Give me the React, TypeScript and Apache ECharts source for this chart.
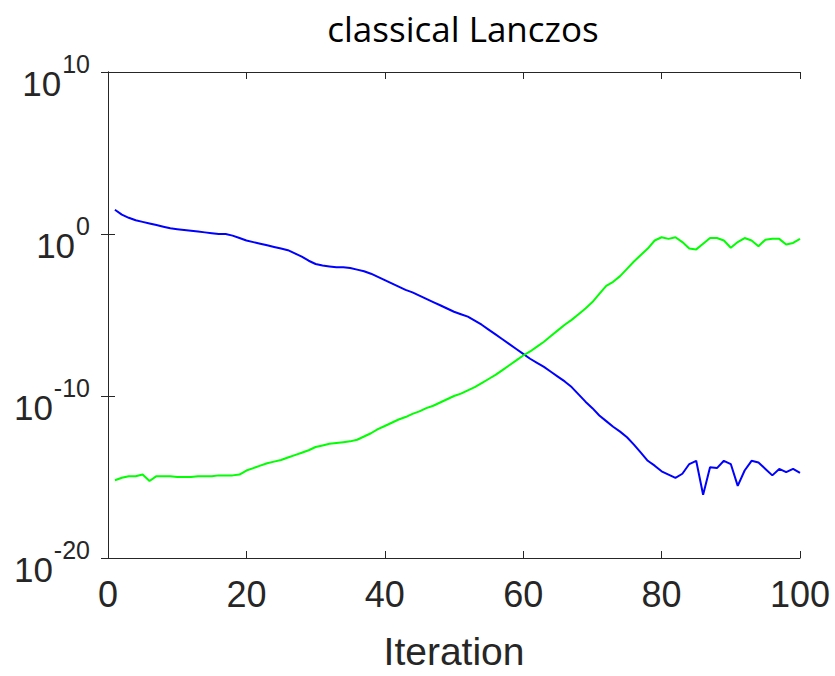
import React, { useEffect, useRef } from "react";
import * as echarts from "echarts";

const iterations: number[] = Array.from({ length: 100 }, (_, i) => i + 1);

// log10 of residual values, iterations 1..100
const blueExp: number[] = [
  1.5, 1.2, 1.0, 0.85, 0.75, 0.65, 0.55, 0.45, 0.35, 0.3,
  0.25, 0.2, 0.15, 0.1, 0.05, 0.0, 0.0, -0.1, -0.25, -0.4,
  -0.5, -0.6, -0.7, -0.8, -0.9, -1.0, -1.2, -1.4, -1.65, -1.85,
  -1.95, -2.0, -2.05, -2.05, -2.1, -2.2, -2.3, -2.45, -2.65, -2.85,
  -3.05, -3.25, -3.45, -3.6, -3.8, -4.0, -4.2, -4.4, -4.6, -4.8,
  -4.95, -5.1, -5.35, -5.6, -5.9, -6.2, -6.5, -6.8, -7.1, -7.4,
  -7.7, -7.95, -8.2, -8.5, -8.8, -9.1, -9.45, -9.9, -10.35, -10.75,
  -11.2, -11.55, -11.9, -12.2, -12.55, -13.0, -13.5, -14.0, -14.3, -14.65,
  -14.85, -15.05, -14.8, -14.2, -14.0, -16.1, -14.4, -14.45, -14.0, -14.2,
  -15.55, -14.6, -14.0, -14.1, -14.5, -14.9, -14.5, -14.7, -14.5, -14.75,
];

const greenExp: number[] = [
  -15.2, -15.05, -14.95, -14.95, -14.85, -15.25, -14.95, -14.95, -14.95, -15.0,
  -15.0, -15.0, -14.95, -14.95, -14.95, -14.9, -14.9, -14.9, -14.85, -14.6,
  -14.45, -14.3, -14.15, -14.05, -13.95, -13.8, -13.65, -13.5, -13.35, -13.15,
  -13.05, -12.95, -12.9, -12.85, -12.8, -12.7, -12.5, -12.3, -12.05, -11.85,
  -11.65, -11.45, -11.3, -11.1, -10.95, -10.75, -10.6, -10.4, -10.2, -10.0,
  -9.85, -9.65, -9.45, -9.2, -8.95, -8.7, -8.4, -8.1, -7.8, -7.5,
  -7.25, -6.95, -6.65, -6.3, -5.95, -5.6, -5.3, -4.95, -4.6, -4.2,
  -3.7, -3.2, -2.95, -2.6, -2.15, -1.7, -1.3, -0.9, -0.4, -0.2,
  -0.3, -0.2, -0.5, -0.9, -0.95, -0.6, -0.25, -0.25, -0.4, -0.85,
  -0.5, -0.25, -0.4, -0.75, -0.35, -0.3, -0.3, -0.65, -0.55, -0.3,
];

const xTicks: number[] = [0, 20, 40, 60, 80, 100];
const yTickExponents: number[] = [-20, -10, 0, 10];

const titleText = "classical Lanczos";
const xAxisName = "Iteration";

const axisColor = "#262626";
const labelFont = "Liberation Sans, Arial, Helvetica, sans-serif";

export default function App() {
  const ref = useRef<HTMLDivElement>(null);

  useEffect(() => {
    if (!ref.current) return;
    const chart = echarts.init(ref.current, undefined, { renderer: "svg" });

    const blueData = iterations.map((it, i) => [it, Math.pow(10, blueExp[i])]);
    const greenData = iterations.map((it, i) => [it, Math.pow(10, greenExp[i])]);

    const tickInside = { show: true, inside: true, length: 7, lineStyle: { color: axisColor, width: 1 } };
    const lineStyle = { color: axisColor, width: 1 };
    const yMin = Math.pow(10, yTickExponents[0]);
    const yMax = Math.pow(10, yTickExponents[yTickExponents.length - 1]);

    chart.setOption({
      animation: false,
      backgroundColor: "#ffffff",
      grid: { left: 108, right: 35, top: 72, bottom: 114, containLabel: false },
      xAxis: [
        {
          type: "value",
          min: xTicks[0],
          max: xTicks[xTicks.length - 1],
          interval: 20,
          axisLine: { show: true, lineStyle },
          axisTick: tickInside,
          splitLine: { show: false },
          axisLabel: {
            fontSize: 36,
            fontFamily: labelFont,
            color: "#262626",
            margin: 18,
          },
          name: xAxisName,
          nameLocation: "middle",
          nameGap: 74,
          nameTextStyle: { fontSize: 39, fontFamily: labelFont, color: "#262626" },
        },
        {
          type: "value",
          position: "top",
          min: xTicks[0],
          max: xTicks[xTicks.length - 1],
          interval: 20,
          axisLine: { show: true, lineStyle },
          axisTick: tickInside,
          axisLabel: { show: false },
          splitLine: { show: false },
        },
      ],
      yAxis: [
        {
          type: "log",
          logBase: 10,
          min: yMin,
          max: yMax,
          interval: 10,
          axisLine: { show: true, lineStyle },
          axisTick: tickInside,
          splitLine: { show: false },
          minorTick: { show: false },
          axisLabel: { show: false },
        },
        {
          type: "log",
          logBase: 10,
          position: "right",
          min: yMin,
          max: yMax,
          interval: 10,
          axisLine: { show: true, lineStyle },
          axisTick: tickInside,
          axisLabel: { show: false },
          splitLine: { show: false },
        },
      ],
      series: [
        {
          type: "line",
          data: blueData,
          showSymbol: false,
          symbol: "none",
          lineStyle: { color: "#0000ff", width: 2 },
          xAxisIndex: 0,
          yAxisIndex: 0,
        },
        {
          type: "line",
          data: greenData,
          showSymbol: false,
          symbol: "none",
          lineStyle: { color: "#00ff00", width: 2 },
          xAxisIndex: 0,
          yAxisIndex: 0,
        },
      ],
    });

    // y tick labels of the form 10^e, placed through the axis scale
    const baseFont = `35px ${labelFont}`;
    const expFont = `25px ${labelFont}`;
    const rightEdge = 90;
    const graphics: any[] = [
      {
        type: "text",
        x: 463,
        y: 28,
        style: {
          text: titleText,
          fill: "#000000",
          font: "35px 'Open Sans', 'Noto Sans', sans-serif",
          textAlign: "center",
          textVerticalAlign: "middle",
        },
      },
    ];
    yTickExponents.forEach((e) => {
      const py = chart.convertToPixel({ yAxisIndex: 0 }, Math.pow(10, e)) as number;
      const expText = String(e);
      const expW = new echarts.graphic.Text({ style: { text: expText, font: expFont } }).getBoundingRect().width;
      graphics.push({
        type: "text",
        x: rightEdge,
        y: py - 8,
        style: {
          text: expText,
          font: expFont,
          fill: "#262626",
          textAlign: "right",
          textVerticalAlign: "middle",
        },
      });
      graphics.push({
        type: "text",
        x: rightEdge - expW - 1,
        y: py + 11,
        style: {
          text: "10",
          font: baseFont,
          fill: "#262626",
          textAlign: "right",
          textVerticalAlign: "middle",
        },
      });
    });
    chart.setOption({ graphic: graphics });

    return () => chart.dispose();
  }, []);

  return (
    <div
      ref={ref}
      style={{ position: "fixed", left: 0, top: 0, width: 835, height: 676, background: "#fff" }}
    />
  );
}
